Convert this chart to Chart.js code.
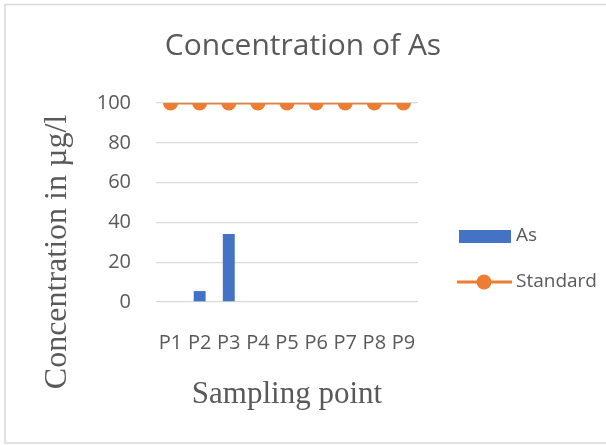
<!DOCTYPE html>
<html>
<head>
<meta charset="utf-8">
<script src="https://cdn.jsdelivr.net/npm/chart.js@4"></script>
<style>
  html, body { margin: 0; padding: 0; background: #fff; }
  #wrap { width: 606px; height: 445px; position: relative; }
</style>
</head>
<body>
<div id="wrap"><canvas id="chart-as"></canvas></div>
<script>
var categories = ['P1', 'P2', 'P3', 'P4', 'P5', 'P6', 'P7', 'P8', 'P9'];
var asValues = [0, 5.5, 34.2, 0, 0, 0, 0, 0, 0];
var standardValues = [100, 100, 100, 100, 100, 100, 100, 100, 100];
var yTicks = [0, 20, 40, 60, 80, 100];

var grey = '#595959';
var blue = '#4472C4';
var orange = '#ED7D31';

// frame, title, rotated y title and legend drawn like the Excel chart
var extras = {
    id: 'extras',
    beforeDraw: function (chart) {
        var c = chart.ctx;
        c.save();
        c.fillStyle = '#fff';
        c.fillRect(0, 0, chart.width, chart.height);
        c.strokeStyle = '#D9D9D9';
        c.lineWidth = 1.5;
        c.strokeRect(5, 4.5, 610, 438.5);
        c.restore();
    },
    afterDraw: function (chart) {
        var c = chart.ctx;
        c.save();
        c.font = '30px "Open Sans"';
        c.fillStyle = grey;
        c.textAlign = 'center';
        c.textBaseline = 'middle';
        c.fillText('Concentration of As', 303, 46);
        c.restore();

        // y axis title
        c.save();
        c.translate(58, 252);
        c.rotate(-Math.PI / 2);
        c.font = '32px "Liberation Serif"';
        c.fillStyle = grey;
        c.textAlign = 'center';
        c.textBaseline = 'middle';
        c.fillText('Concentration in µg/l', 0, 0);
        c.restore();

        c.save();
        c.font = '19px "Open Sans"';
        c.textBaseline = 'middle';
        // As
        c.fillStyle = blue;
        c.fillRect(459, 230, 52, 13);
        c.fillStyle = grey;
        c.fillText(chart.data.datasets[0].label, 516, 236);
        // Standard
        c.strokeStyle = orange;
        c.lineWidth = 3;
        c.beginPath();
        c.moveTo(457, 282);
        c.lineTo(512, 282);
        c.stroke();
        c.fillStyle = orange;
        c.beginPath();
        c.arc(484, 282, 7.5, 0, Math.PI * 2);
        c.fill();
        c.fillStyle = grey;
        c.fillText(chart.data.datasets[1].label, 516, 282);
        c.restore();
    }
};

var ctx = document.getElementById('chart-as');
var chart = new Chart(ctx, {
    type: 'bar',
    data: {
        labels: categories,
        datasets: [{
            label: 'As',
            data: asValues,
            backgroundColor: blue,
            barPercentage: 0.41,
            categoryPercentage: 1,
            order: 1
        }, {
            type: 'line',
            label: 'Standard',
            data: standardValues,
            borderColor: orange,
            backgroundColor: orange,
            borderWidth: 3,
            pointRadius: 7.5,
            pointBorderWidth: 0,
            pointBackgroundColor: orange,
            order: 0
        }]
    },
    options: {
        responsive: true,
        maintainAspectRatio: false,
        animation: false,
        layout: {
            padding: { left: 0, right: 188, top: 103, bottom: 0 }
        },
        plugins: {
            legend: { display: false },
            tooltip: { enabled: false }
        },
        scales: {
            x: {
                grid: { display: false },
                border: { display: false },
                ticks: {
                    color: grey,
                    padding: 21,
                    maxRotation: 0,
                    autoSkip: false,
                    font: { family: 'Open Sans', size: 20 }
                },
                title: {
                    display: true,
                    text: 'Sampling point',
                    color: grey,
                    font: { family: 'Liberation Serif', size: 31 },
                    padding: { top: 0, bottom: 32 }
                },
                afterFit: function (scale) { scale.height = 143; }
            },
            y: {
                min: 0,
                max: 100,
                afterBuildTicks: function (scale) {
                    scale.ticks = yTicks.map(function (v) { return { value: v }; });
                },
                grid: { color: '#D9D9D9', lineWidth: 1.3, drawTicks: false },
                border: { display: false },
                ticks: {
                    color: grey,
                    padding: 25,
                    font: { family: 'Open Sans', size: 20 }
                },
                afterFit: function (scale) { scale.width = 156; }
            }
        }
    },
    plugins: [extras]
});
</script>
</body>
</html>
